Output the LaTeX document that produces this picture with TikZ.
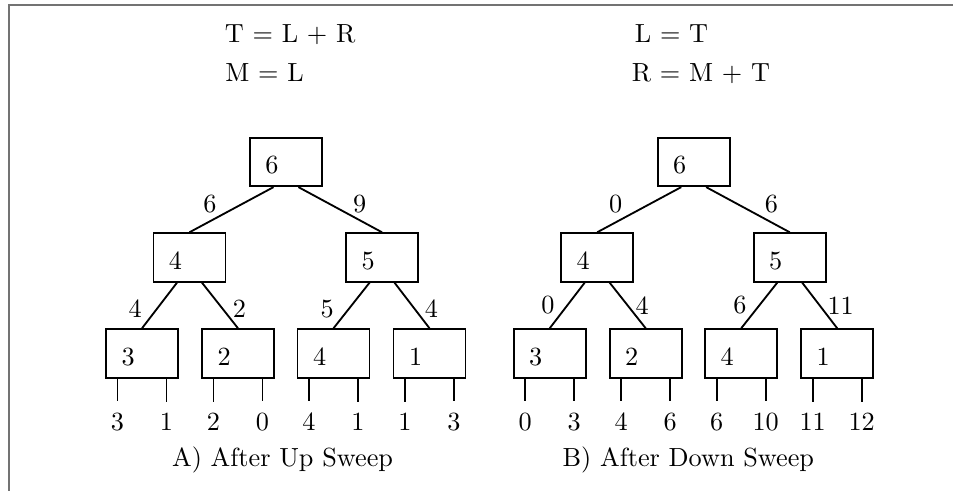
\documentclass[tikz,border=0pt]{standalone}
\begin{document}
\begin{tikzpicture}[line width=0.7pt,
        box/.style={draw, text width=0.549cm, align=left, inner xsep=0.208cm, inner ysep=0pt, text height=13.73pt, text depth=4.77pt},
        lbl/.style={midway, inner sep=0pt},
        leaf/.style={inner sep=4pt},
        rule/.style={anchor=base west, inner sep=0pt},
        frame/.style={draw=black!55, line width=0.65pt}]
      \useasboundingbox (0,0) rectangle (12.77,6.579);
      \draw[frame] (0.121,-0.1) -- (0.121,6.515) -- (12.9,6.515);
      % rules
      \node[rule] (ru1) at (3.002,6.003) {T = L + R};
      \node[rule] (ru2) at (3.008,5.481) {M = L};
      \node[rule] (rd1) at (8.496,6.003) {L = T};
      \node[rule] (rd2) at (8.455,5.481) {R = M + T};
      % A) up sweep
      \node[box] (ua)  at (3.832,4.409) {6};
      \node[box] (ub)  at (2.539,3.129) {4};
      \node[box] (uc)  at (5.119,3.129) {5};
      \node[box] (ud1) at (1.903,1.843) {3};
      \node[box] (ud2) at (3.189,1.843) {2};
      \node[box] (ud3) at (4.469,1.843) {4};
      \node[box] (ud4) at (5.755,1.843) {1};
      \draw ([xshift=-0.167cm]ua.south) -- node[lbl, anchor=east, xshift=-0.19cm, yshift=0.074cm] {6} (ub.north);
      \draw ([xshift=0.167cm]ua.south) -- node[lbl, anchor=west, xshift=0.161cm, yshift=0.074cm] {9} (uc.north);
      \draw ([xshift=-0.167cm]ub.south) -- node[lbl, anchor=east, xshift=-0.225cm, yshift=-0.047cm] {4} (ud1.north);
      \draw ([xshift=0.167cm]ub.south) -- node[lbl, anchor=west, xshift=0.161cm, yshift=-0.047cm] {2} (ud2.north);
      \draw ([xshift=-0.167cm]uc.south) -- node[lbl, anchor=east, xshift=-0.225cm, yshift=-0.047cm] {5} (ud3.north);
      \draw ([xshift=0.167cm]uc.south) -- node[lbl, anchor=west, xshift=0.161cm, yshift=-0.047cm] {4} (ud4.north);
      \node[leaf] (uv1) at (1.575,0.929) {3};
      \node[leaf] (uv2) at (2.231,0.929) {1};
      \node[leaf] (uv3) at (2.861,0.929) {2};
      \node[leaf] (uv4) at (3.517,0.929) {0};
      \node[leaf] (uv5) at (4.141,0.929) {4};
      \node[leaf] (uv6) at (4.797,0.929) {1};
      \node[leaf] (uv7) at (5.427,0.929) {1};
      \node[leaf] (uv8) at (6.083,0.929) {3};
      \draw (uv1 |- ud1.south) -- (uv1);
      \draw (uv2 |- ud1.south) -- (uv2);
      \draw (uv3 |- ud2.south) -- (uv3);
      \draw (uv4 |- ud2.south) -- (uv4);
      \draw (uv5 |- ud3.south) -- (uv5);
      \draw (uv6 |- ud3.south) -- (uv6);
      \draw (uv7 |- ud4.south) -- (uv7);
      \draw (uv8 |- ud4.south) -- (uv8);
      \node[anchor=base] (capa) at (3.786,0.326) {A) After Up Sweep};
      % B) down sweep
      \node[box] (da)  at (9.295,4.409) {6};
      \node[box] (db)  at (8.002,3.129) {4};
      \node[box] (dc)  at (10.582,3.129) {5};
      \node[box] (dd1) at (7.366,1.843) {3};
      \node[box] (dd2) at (8.652,1.843) {2};
      \node[box] (dd3) at (9.932,1.843) {4};
      \node[box] (dd4) at (11.218,1.843) {1};
      \draw ([xshift=-0.167cm]da.south) -- node[lbl, anchor=east, xshift=-0.214cm, yshift=0.074cm] {0} (db.north);
      \draw ([xshift=0.167cm]da.south) -- node[lbl, anchor=west, xshift=0.214cm, yshift=0.074cm] {6} (dc.north);
      \draw ([xshift=-0.167cm]db.south) -- node[lbl, anchor=east, xshift=-0.158cm] {0} (dd1.north);
      \draw ([xshift=0.167cm]db.south) -- node[lbl, anchor=west, xshift=0.094cm] {4} (dd2.north);
      \draw ([xshift=-0.167cm]dc.south) -- node[lbl, anchor=east, xshift=-0.158cm] {6} (dd3.north);
      \draw ([xshift=0.167cm]dc.south) -- node[lbl, anchor=west, xshift=0.094cm] {11} (dd4.north);
      \node[leaf] (dv1) at (7.038,0.929) {0};
      \node[leaf] (dv2) at (7.694,0.929) {3};
      \node[leaf] (dv3) at (8.324,0.929) {4};
      \node[leaf] (dv4) at (8.980,0.929) {6};
      \node[leaf] (dv5) at (9.604,0.929) {6};
      \node[leaf] (dv6) at (10.260,0.929) {10};
      \node[leaf] (dv7) at (10.890,0.929) {11};
      \node[leaf] (dv8) at (11.546,0.929) {12};
      \draw (dv1 |- dd1.south) -- (dv1);
      \draw (dv2 |- dd1.south) -- (dv2);
      \draw (dv3 |- dd2.south) -- (dv3);
      \draw (dv4 |- dd2.south) -- (dv4);
      \draw (dv5 |- dd3.south) -- (dv5);
      \draw (dv6 |- dd3.south) -- (dv6);
      \draw (dv7 |- dd4.south) -- (dv7);
      \draw (dv8 |- dd4.south) -- (dv8);
      \node[anchor=base] (capb) at (9.223,0.326) {B) After Down Sweep};
    \end{tikzpicture}
\end{document}
